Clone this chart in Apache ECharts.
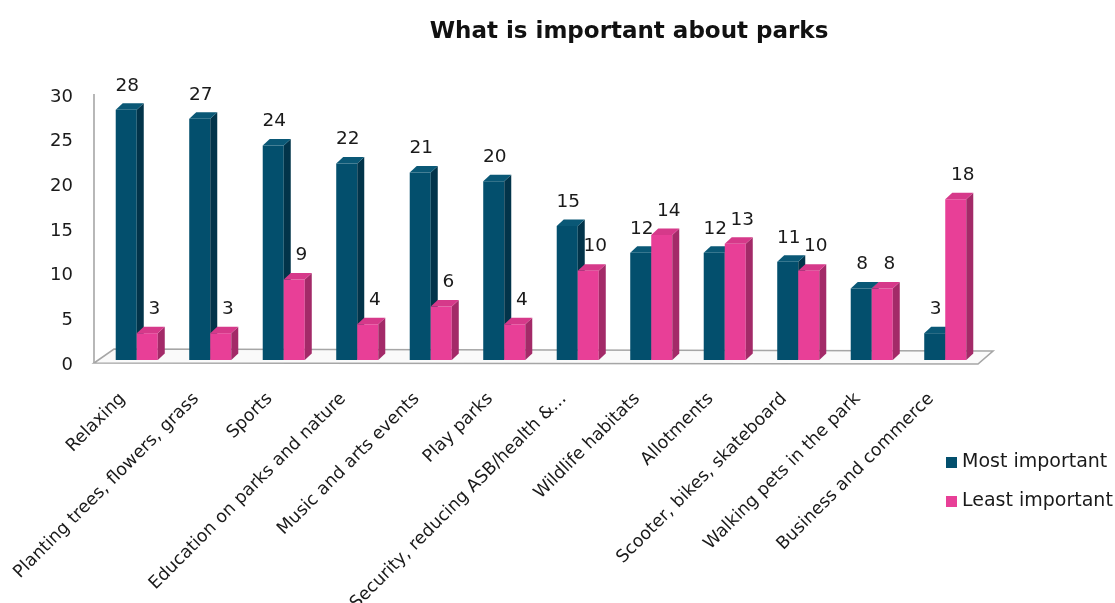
<!DOCTYPE html>
<html>
<head>
<meta charset="utf-8">
<script src="https://cdn.jsdelivr.net/npm/echarts@6/dist/echarts.min.js"></script>
<style>
html,body{margin:0;padding:0;background:#fff;}
#c{width:1115px;height:603px;}
</style>
</head>
<body>
<div id="c"></div>
<script>
var categories = ['Relaxing','Planting trees, flowers, grass','Sports','Education on parks and nature','Music and arts events','Play parks','Security, reducing ASB/health &...','Wildlife habitats','Allotments','Scooter, bikes, skateboard','Walking pets in the park','Business and commerce'];
var mostImportant = [28,27,24,22,21,20,15,12,12,11,8,3];
var leastImportant = [3,3,9,4,6,4,10,14,13,10,8,18];
var yTicks = {min:0, max:30, interval:5};

var FONT = 'DejaVu Sans';
var TXT = '#1a1a1a';
var styles = [
  {front:'#034f6d', side:'#02344a', top:'#0a5876', labelShift:0},
  {front:'#e83f97', side:'#a32a68', top:'#d6398a', labelShift:6}
];

function makeBar(si){
  return function(params, api){
    var idx = api.value(0), val = api.value(1);
    var base = api.coord([idx, 0]);
    var topP = api.coord([idx, val]);
    var band = api.size([1,0])[0];
    var w = band*0.286;
    var dx = 7, dy = 6.5;
    var x = si===0 ? base[0]-w : base[0];
    var t = topP[1], b = base[1];
    var s = styles[si];
    return {
      type:'group',
      children:[
        {type:'rect', shape:{x:x, y:t, width:w, height:b-t}, style:{fill:s.front}},
        {type:'polygon', shape:{points:[[x+w,t],[x+w+dx,t-dy],[x+w+dx,b-dy],[x+w,b]]}, style:{fill:s.side}},
        {type:'polygon', shape:{points:[[x,t],[x+dx,t-dy],[x+w+dx,t-dy],[x+w,t]]}, style:{fill:s.top}},
        {type:'text', x:x+w/2+1+s.labelShift, y:t-24, style:{text:String(val), fill:TXT, font:'18.5px "'+FONT+'"', align:'center', verticalAlign:'middle'}}
      ]
    };
  };
}

function floorRender(params, api){
  var cs = params.coordSys;
  var x0 = cs.x, x1 = cs.x+cs.width, y0 = cs.y+cs.height, yTop = cs.y;
  return {
    type:'group',
    children:[
      {type:'polygon', shape:{points:[[x0-6,y0+3],[x1-4,y0+4],[x1+11,y0-9],[x0+14,y0-11]]},
       style:{fill:'#fafafa', stroke:'#a6a6a6', lineWidth:1.6}},
      {type:'line', shape:{x1:x0-6, y1:yTop+2, x2:x0-6, y2:y0+3}, style:{stroke:'#a6a6a6', lineWidth:1.6}}
    ]
  };
}

var chart = echarts.init(document.getElementById('c'));
chart.setOption({
  animation:false,
  backgroundColor:'#fff',
  title:{text:'What is important about parks', left:624, top:16, textAlign:'center',
    textStyle:{fontFamily:FONT, fontWeight:'bold', fontSize:23, color:'#111'}},
  legend:{
    data:['Most important','Least important'],
    orient:'vertical', left:941, top:448, itemWidth:11, itemHeight:11, itemGap:20,
    icon:'rect',
    textStyle:{fontFamily:FONT, fontSize:19, color:TXT}
  },
  grid:{left:100, right:133, top:92, bottom:243, containLabel:false, outerBoundsMode:'none'},
  xAxis:{
    type:'category', data:categories,
    axisLine:{show:false}, axisTick:{show:false}, splitLine:{show:false},
    axisLabel:{interval:0, rotate:45, margin:22, padding:[0,20,0,0], fontFamily:FONT, fontSize:17.5, color:TXT}
  },
  yAxis:{
    type:'value', min:yTicks.min, max:yTicks.max, interval:yTicks.interval,
    axisLine:{show:false}, axisTick:{show:false}, splitLine:{show:false},
    axisLabel:{margin:27, formatter:'{a|{value}}',
      rich:{a:{padding:[10,0,0,0], fontFamily:FONT, fontSize:18, color:TXT}},
      fontFamily:FONT, fontSize:18, color:TXT}
  },
  series:[
    {type:'custom', name:'floor', renderItem:floorRender, data:[[0,0]], z:1, silent:true},
    {type:'custom', name:'Most important', renderItem:makeBar(0), itemStyle:{color:styles[0].front},
      data:mostImportant.map(function(v,i){return [i,v];}), encode:{x:0,y:1}, z:2},
    {type:'custom', name:'Least important', renderItem:makeBar(1), itemStyle:{color:styles[1].front},
      data:leastImportant.map(function(v,i){return [i,v];}), encode:{x:0,y:1}, z:3}
  ]
});
</script>
</body>
</html>
